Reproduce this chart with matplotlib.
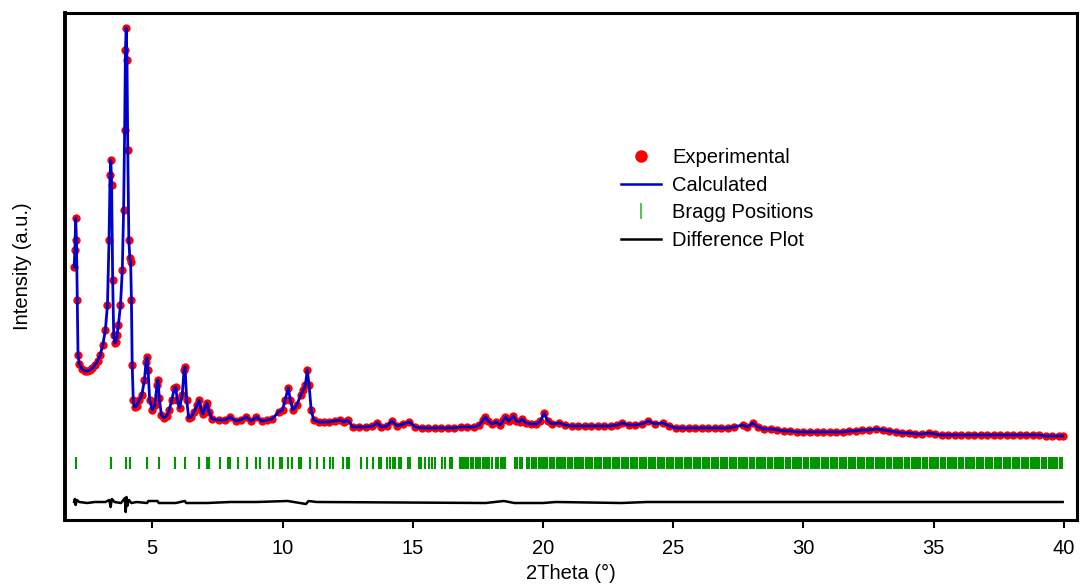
import matplotlib.pyplot as plt
from matplotlib.lines import Line2D

plt.rcParams['font.family'] = ['Liberation Sans', 'DejaVu Sans']

# observed profile, 2theta (deg) and intensity (a.u.)
two_theta = [
    2.00, 2.03, 2.06, 2.09, 2.12, 2.15, 2.20, 2.30, 2.40, 2.50, 2.60, 2.70, 2.80, 2.90,
    3.00, 3.10, 3.20, 3.28, 3.34, 3.38, 3.41, 3.44, 3.48, 3.52, 3.56, 3.60, 3.65, 3.70,
    3.78, 3.85, 3.90, 3.94, 3.97, 4.00, 4.03, 4.06, 4.10, 4.14, 4.17, 4.20, 4.23, 4.27,
    4.32, 4.40, 4.50, 4.60, 4.70, 4.76, 4.80, 4.84, 4.90, 5.00, 5.10, 5.18, 5.22, 5.27,
    5.35, 5.45, 5.55, 5.65, 5.75, 5.85, 5.90, 5.96, 6.05, 6.15, 6.22, 6.26, 6.32, 6.40,
    6.50, 6.60, 6.72, 6.80, 6.88, 6.95, 7.05, 7.10, 7.18, 7.30, 7.55, 7.80, 8.00, 8.20,
    8.40, 8.60, 8.80, 9.00, 9.20, 9.40, 9.60, 9.85, 10.00, 10.10, 10.22, 10.30, 10.40,
    10.55, 10.70, 10.80, 10.88, 10.95, 11.02, 11.10, 11.20, 11.40, 11.60, 11.80, 12.00,
    12.20, 12.35, 12.50, 12.70, 12.95, 13.20, 13.45, 13.63, 13.80, 14.00, 14.20, 14.40,
    14.64, 14.87, 15.10, 15.35, 15.60, 15.85, 16.10, 16.35, 16.60, 16.85, 17.10, 17.35,
    17.55, 17.70, 17.79, 17.90, 18.05, 18.20, 18.35, 18.48, 18.56, 18.68, 18.80, 18.86,
    18.98, 19.10, 19.20, 19.35, 19.55, 19.75, 19.90, 20.05, 20.18, 20.35, 20.60, 20.85,
    21.10, 21.35, 21.60, 21.85, 22.10, 22.35, 22.60, 22.85, 23.05, 23.30, 23.55, 23.80,
    24.05, 24.30, 24.60, 24.85, 25.10, 25.35, 25.60, 25.85, 26.10, 26.35, 26.60, 26.85,
    27.10, 27.35, 27.66, 27.85, 28.05, 28.25, 28.50, 28.75, 29.00, 29.25, 29.50, 29.75,
    30.00, 30.25, 30.50, 30.75, 31.00, 31.25, 31.50, 31.75, 32.00, 32.25, 32.50, 32.80,
    33.05, 33.30, 33.55, 33.80, 34.05, 34.30, 34.55, 34.80, 35.05, 35.30, 35.55, 35.80,
    36.05, 36.30, 36.55, 36.80, 37.05, 37.30, 37.55, 37.80, 38.05, 38.30, 38.55, 38.80,
    39.05, 39.30, 39.55, 39.80, 39.95]
y_obs = [
    253, 270, 302, 280, 220, 165, 156, 151, 149, 149, 150, 152, 155, 159,
    165, 175, 190, 215, 280, 345, 360, 335, 240, 185, 177, 178, 185, 195,
    215, 250, 310, 390, 470, 492, 460, 370, 280, 262, 258, 220, 155, 120,
    113, 114, 120, 125, 140, 158, 163, 150, 120, 110, 115, 135, 140, 122,
    105, 102, 104, 110, 120, 132, 133, 120, 112, 125, 150, 153, 120, 102,
    103, 108, 115, 120, 110, 106, 114, 117, 108, 101, 100, 100, 103, 99,
    100, 103, 99, 103, 99, 100, 101, 108, 110, 120, 132, 120, 110,
    115, 125, 130, 135, 150, 135, 110, 100, 98, 98, 98, 99,
    100, 98, 100, 93, 93, 93, 94, 97, 93, 94, 99, 94,
    96, 98, 93, 92, 92, 92, 92, 92, 92, 93, 93, 93,
    95, 100, 103, 99, 96, 98, 95, 100, 103, 99, 102, 104,
    99, 98, 101, 97, 96, 96, 99, 107, 99, 96, 97, 95,
    94, 94, 94, 94, 94, 94, 94, 95, 97, 95, 95, 96,
    99, 96, 97, 94, 92, 92, 92, 92, 92, 92, 92, 92,
    92, 93, 95, 93, 97, 93, 91, 91, 90, 89, 89, 88,
    88, 88, 88, 88, 88, 88, 88, 89, 89, 90, 90, 91,
    90, 89, 88, 87, 87, 86, 86, 87, 86, 85, 85, 85,
    85, 85, 85, 85, 85, 85, 85, 85, 85, 85, 85, 85,
    85, 84, 84, 84, 84]
y_calc = y_obs

# obs - calc residual
diff_x = [2.00, 2.03, 2.06, 2.10, 2.20, 2.50, 2.80, 3.20, 3.35, 3.40, 3.45, 3.55, 3.80,
          3.95, 3.98, 4.01, 4.04, 4.10, 4.20, 4.40, 4.80, 4.85, 5.20, 5.25, 5.90, 6.25,
          6.30, 7.10, 8.00, 9.00, 10.20, 10.90, 11.00, 11.30, 17.80, 18.50, 18.90,
          20.00, 20.50, 23.00, 24.00, 28.00, 39.95]
residual = [0, 3, -3, 2, 0, -1, 0, 0, 2, -5, 3, 0, -1,
            4, -10, 5, -4, 2, -1, 0, -1, 1, 1, -1, -1, 1,
            -1, -1, 0, 0, 1, -2, 1, 0, -1, 1, -1,
            -1, 0, -1, 0, 0, 0]

bragg_pos = [
    2.07, 3.41, 3.98, 4.16, 4.79, 5.24, 5.88, 6.24, 6.81, 7.10, 7.18, 7.61, 7.90, 7.99,
    8.31, 8.63, 8.99, 9.12, 9.50, 9.63, 9.89, 9.98, 10.23, 10.36, 10.62, 10.72, 11.06,
    11.32, 11.60, 11.83, 11.94, 12.34, 12.47, 12.55, 13.01, 13.24, 13.47, 13.69, 13.78,
    14.01, 14.11, 14.24, 14.33, 14.46, 14.56, 14.82, 14.91, 15.23, 15.33, 15.46, 15.61,
    15.74, 15.87, 16.12, 16.25, 16.44, 16.51, 16.80, 16.88, 16.97, 17.05, 17.14, 17.22,
    17.30, 17.42, 17.51, 17.60, 17.68, 17.77, 17.85, 17.94, 18.03, 18.20, 18.29, 18.38,
    18.47, 18.55, 18.92, 19.01, 19.10, 19.18, 19.40, 19.48, 19.57, 19.66, 19.74, 19.83,
    19.91, 20.00, 20.09, 20.17, 20.26, 20.35, 20.43, 20.52, 20.60, 20.69, 20.78, 20.86,
    20.95, 21.04, 21.12, 21.21, 21.30, 21.38, 21.47, 21.55, 21.64, 21.73, 21.81, 21.90,
    21.99, 22.07, 22.16, 22.24, 22.33, 22.42, 22.50, 22.59, 22.68, 22.76, 22.85, 22.93,
    23.02, 23.11, 23.19, 23.28, 23.37, 23.45, 23.54, 23.62, 23.71, 23.80, 23.88, 23.97,
    24.06, 24.14, 24.23, 24.31, 24.40, 24.49, 24.57, 24.66, 24.75, 24.83, 24.92, 25.00,
    25.09, 25.18, 25.26, 25.35, 25.44, 25.52, 25.61, 25.69, 25.78, 25.87, 25.95, 26.04,
    26.13, 26.21, 26.30, 26.38, 26.47, 26.56, 26.64, 26.73, 26.82, 26.90, 26.99, 27.07,
    27.16, 27.25, 27.33, 27.42, 27.51, 27.59, 27.68, 27.76, 27.85, 27.94, 28.02, 28.11,
    28.20, 28.28, 28.37, 28.45, 28.54, 28.63, 28.71, 28.80, 28.89, 28.97, 29.06, 29.14,
    29.23, 29.32, 29.40, 29.49, 29.58, 29.66, 29.75, 29.83, 29.92, 30.01, 30.09, 30.18,
    30.27, 30.35, 30.44, 30.52, 30.61, 30.70, 30.78, 30.87, 30.96, 31.04, 31.13, 31.21,
    31.30, 31.39, 31.47, 31.56, 31.65, 31.73, 31.82, 31.90, 31.99, 32.08, 32.16, 32.25,
    32.34, 32.42, 32.51, 32.59, 32.68, 32.77, 32.85, 32.94, 33.03, 33.11, 33.20, 33.28,
    33.37, 33.46, 33.54, 33.63, 33.72, 33.80, 33.89, 33.97, 34.06, 34.15, 34.23, 34.32,
    34.41, 34.49, 34.58, 34.66, 34.75, 34.84, 34.92, 35.01, 35.10, 35.18, 35.27, 35.35,
    35.44, 35.53, 35.61, 35.70, 35.79, 35.87, 35.96, 36.04, 36.13, 36.22, 36.30, 36.39,
    36.48, 36.56, 36.65, 36.73, 36.82, 36.91, 36.99, 37.08, 37.17, 37.25, 37.34, 37.42,
    37.51, 37.60, 37.68, 37.77, 37.86, 37.94, 38.03, 38.11, 38.20, 38.29, 38.37, 38.46,
    38.55, 38.63, 38.72, 38.80, 38.89, 38.98, 39.06, 39.15, 39.24, 39.32, 39.41, 39.49,
    39.58, 39.67, 39.75, 39.84, 39.93]

diff_offset = 18
bragg_lo, bragg_hi = 51, 63

fig = plt.figure(figsize=(10.82, 5.88), dpi=100)
ax = fig.add_axes([65 / 1082, 68 / 588, 1012 / 1082, 507 / 588])

ax.plot(two_theta, y_obs, 'o', color='#ff0000', ms=6, mew=0, zorder=2)
ax.plot(two_theta, y_calc, '-', color='#0000cc', lw=2.0, zorder=3)
ax.vlines(bragg_pos, bragg_lo, bragg_hi, color='#009600', lw=1.5)
ax.plot(diff_x, [r + diff_offset for r in residual], color='black', lw=1.8)

ax.set_xlim(1.65, 40.5)
ax.set_ylim(0, 507)
ax.set_xticks([5, 10, 15, 20, 25, 30, 35, 40])
ax.set_yticks([])
ax.tick_params(axis='x', direction='out', length=6, width=1.5, labelsize=14.5, pad=8)
for s in ax.spines.values():
    s.set_linewidth(2.2)
ax.spines['left'].set_linewidth(2.8)

ax.set_xlabel('2Theta (°)', fontsize=14.5, labelpad=4)
ax.set_ylabel('Intensity (a.u.)', fontsize=14.5, labelpad=24)

handles = [
    Line2D([], [], ls='none', marker='o', color='#ff0000', ms=9, mew=0),
    Line2D([], [], color='#0000cc', lw=1.8),
    Line2D([], [], ls='none', marker='|', color='#33bb33', ms=11, mew=1.2),
    Line2D([], [], color='black', lw=1.8),
]
labels = ['Experimental', 'Calculated', 'Bragg Positions', 'Difference Plot']
ax.legend(handles, labels, loc='upper left', bbox_to_anchor=(0.549, 0.733),
          frameon=False, fontsize=14.5, handlelength=2.0, handletextpad=0.55,
          labelspacing=0.42, borderpad=0, borderaxespad=0)

fig.savefig('out.png', dpi=100)
